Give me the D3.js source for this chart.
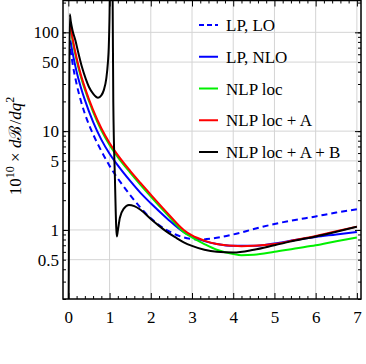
<!DOCTYPE html>
<html>
<head>
<meta charset="utf-8">
<script src="https://cdn.jsdelivr.net/npm/d3@7"></script>
<style>
  body { margin: 0; background: #fff; }
  svg text { font-family: "Liberation Serif", "DejaVu Serif", serif; }
</style>
</head>
<body>
<svg id="chart" width="366" height="364"></svg>
<script>
// q values and dB/dq^2 values (x 10^10)
var qLO = [0.05, 0.1, 0.2, 0.3, 0.4, 0.5, 0.6, 0.8, 1.0, 1.25, 1.5, 1.75, 2.0, 2.2, 2.4, 2.6, 2.8, 3.0, 3.2, 3.5, 4.0, 4.5, 5.0, 5.5, 6.0, 6.5, 7.0];
var lpLO = [68, 49, 30, 20.5, 15, 11.6, 9.3, 6.3, 4.45, 3.1, 2.25, 1.68, 1.31, 1.12, 0.99, 0.9, 0.84, 0.81, 0.8, 0.82, 0.9, 1.02, 1.15, 1.26, 1.37, 1.5, 1.62];

var qNLO = [0.05, 0.1, 0.2, 0.3, 0.4, 0.6, 0.8, 1.0, 1.2, 1.5, 1.75, 2.0, 2.4, 2.8, 3.0, 3.3, 3.6, 4.0, 4.5, 5.0, 5.5, 6.0, 6.5, 7.0];
var lpNLO = [83, 63, 40, 28, 20.7, 12.4, 8.2, 5.9, 4.5, 3.13, 2.37, 1.86, 1.3, 0.95, 0.86, 0.77, 0.72, 0.69, 0.69, 0.73, 0.79, 0.85, 0.9, 0.955];

var qNLP = [0.05, 0.1, 0.2, 0.3, 0.4, 0.6, 0.8, 1.0, 1.2, 1.5, 1.75, 2.0, 2.4, 2.8, 3.0, 3.3, 3.6, 4.0, 4.2, 4.5, 5.0, 5.5, 6.0, 6.5, 7.0];
var nlpLoc = [113, 84, 52, 36, 26.4, 15.7, 10.2, 7.25, 5.45, 3.8, 2.86, 2.18, 1.43, 0.95, 0.84, 0.72, 0.63, 0.57, 0.555, 0.56, 0.6, 0.65, 0.7, 0.77, 0.84];
var nlpLocA = [118, 88, 55, 37.6, 27.6, 16.4, 10.7, 7.6, 5.71, 3.96, 2.99, 2.28, 1.49, 1.0, 0.88, 0.78, 0.72, 0.69, 0.685, 0.69, 0.72, 0.79, 0.87, 0.97, 1.08];

var qB = [0.0, 0.012, 0.022, 0.034, 0.06, 0.1, 0.17, 0.25, 0.33, 0.42, 0.5, 0.6, 0.72, 0.8, 0.86, 0.92, 0.96, 0.98, 1.0, 1.02, 1.04, 1.06, 1.075, 1.09, 1.13, 1.16, 1.175, 1.2, 1.25, 1.35, 1.47, 1.6, 1.75, 2.0, 2.2, 2.4, 2.6, 2.8, 3.0, 3.3, 3.6, 4.0, 4.5, 5.0, 5.5, 6.0, 6.5, 7.0];
var nlpLocAB = [0.05, 0.5, 20, 152, 128, 105, 83, 60, 44.5, 34, 28, 24, 21.8, 23, 26, 34, 50, 70, 160, 800, 2000, 800, 200, 20, 3.3, 1.1, 0.86, 0.98, 1.33, 1.65, 1.79, 1.74, 1.6, 1.29, 1.1, 0.95, 0.84, 0.75, 0.69, 0.63, 0.6, 0.59, 0.63, 0.7, 0.78, 0.86, 0.96, 1.08];

var seriesNames = ["LP, LO", "LP, NLO", "NLP loc", "NLP loc + A", "NLP loc + A + B"];
var xTicks = [0, 1, 2, 3, 4, 5, 6, 7];
var yTicks = [0.5, 1, 5, 10, 50, 100];

var series = [
  { name: seriesNames[0], q: qLO, v: lpLO, color: "#0000ff", dash: "6,4" },
  { name: seriesNames[1], q: qNLO, v: lpNLO, color: "#0000ff", dash: null },
  { name: seriesNames[2], q: qNLP, v: nlpLoc, color: "#00f000", dash: null },
  { name: seriesNames[3], q: qNLP, v: nlpLocA, color: "#ff0000", dash: null },
  { name: seriesNames[4], q: qB, v: nlpLocAB, color: "#000000", dash: null }
];

var svg = d3.select("#chart");
var mLeft = 63, mRight = 361, mTop = 0.5, mBottom = 299;

var x = d3.scaleLinear().domain([-0.13, 7.1]).range([mLeft, mRight]);
var y = d3.scaleLog().domain([0.2, 210]).range([mBottom, mTop]);

svg.append("clipPath").attr("id", "clip")
  .append("rect").attr("x", mLeft).attr("y", mTop).attr("width", mRight - mLeft).attr("height", mBottom - mTop);

// grid
var grid = svg.append("g").attr("stroke", "#d4d4d4").attr("stroke-width", 1);
xTicks.forEach(function (t) {
  grid.append("line").attr("x1", x(t)).attr("x2", x(t)).attr("y1", mTop).attr("y2", mBottom);
});
yTicks.forEach(function (t) {
  grid.append("line").attr("x1", mLeft).attr("x2", mRight).attr("y1", y(t)).attr("y2", y(t));
});

// curves
var line = d3.line()
  .x(function (d) { return x(d[0]); })
  .y(function (d) { return y(d[1]); })
  .curve(d3.curveMonotoneX);

var curves = svg.append("g").attr("clip-path", "url(#clip)");
series.forEach(function (s) {
  var pts = s.q.map(function (q, i) { return [q, s.v[i]]; });
  curves.append("path")
    .attr("d", line(pts))
    .attr("fill", "none")
    .attr("stroke", s.color)
    .attr("stroke-width", 2)
    .attr("stroke-dasharray", s.dash);
});

// ticks on all four sides
var xMinor = d3.range(0, 7.05, 0.2).filter(function (t) { return Math.abs(t - Math.round(t)) > 0.01; });
var yMinor = [];
[0.1, 1, 10, 100].forEach(function (dec) {
  for (var k = 1; k < 10; k++) {
    var v = dec * k;
    if (v >= 0.2 && v <= 210) yMinor.push(v);
  }
});
var yMajor = [1, 10, 100];

function tickAxis(axisFn, scale, vals, size) {
  return axisFn(scale).tickValues(vals).tickSizeInner(size).tickSizeOuter(0).tickFormat("");
}

var fmt = function (d) { return d3.format("~g")(d); };

function place(tx, ty) {
  return svg.append("g").attr("transform", "translate(" + tx + "," + ty + ")");
}

place(0, mBottom).call(tickAxis(d3.axisTop, x, xMinor, 3));
place(0, mBottom).call(tickAxis(d3.axisTop, x, xTicks, 6));
place(0, mBottom).call(d3.axisBottom(x).tickValues(xTicks).tickSize(0).tickPadding(12).tickFormat(fmt));

place(0, mTop).call(tickAxis(d3.axisBottom, x, xMinor, 3));
place(0, mTop).call(tickAxis(d3.axisBottom, x, xTicks, 6));

place(mLeft, 0).call(tickAxis(d3.axisRight, y, yMinor, 3));
place(mLeft, 0).call(tickAxis(d3.axisRight, y, yMajor, 6));
place(mLeft, 0).call(d3.axisLeft(y).tickValues(yTicks).tickSize(0).tickPadding(4).tickFormat(fmt));

place(mRight, 0).call(tickAxis(d3.axisLeft, y, yMinor, 3));
place(mRight, 0).call(tickAxis(d3.axisLeft, y, yMajor, 6));

svg.selectAll(".domain").remove();
svg.selectAll(".tick line").attr("stroke", "#000").attr("stroke-width", 1);
svg.selectAll(".tick text")
  .attr("fill", "#000")
  .style("font-size", "17px")
  .style("font-family", "'Liberation Serif', 'DejaVu Serif', serif");

// frame
svg.append("rect")
  .attr("x", mLeft).attr("y", mTop)
  .attr("width", mRight - mLeft).attr("height", mBottom - mTop)
  .attr("fill", "none").attr("stroke", "#000").attr("stroke-width", 1.5);

// y title
var title = svg.append("text")
  .attr("transform", "translate(21,146) rotate(-90)")
  .attr("text-anchor", "middle")
  .style("font-size", "17px")
  .attr("fill", "#000");
title.append("tspan").text("10");
title.append("tspan").attr("dy", -7).style("font-size", "12px").text("10");
title.append("tspan").attr("dy", 7).text(" × ");
title.append("tspan").style("font-style", "italic").text("d");
title.append("tspan").text("ℬ");
title.append("tspan").attr("dx", 1).text("/");
title.append("tspan").style("font-style", "italic").text("dq");
title.append("tspan").attr("dy", -7).style("font-size", "12px").text("2");

// legend
var legend = svg.append("g");
var rowY = d3.scaleLinear().domain([0, 4]).range([25, 152]);
series.forEach(function (s, i) {
  var ly = rowY(i);
  legend.append("line")
    .attr("x1", 199).attr("x2", 218).attr("y1", ly).attr("y2", ly)
    .attr("stroke", s.color).attr("stroke-width", 2)
    .attr("stroke-dasharray", s.dash ? "5,3" : null);
  legend.append("text")
    .attr("x", 226).attr("y", ly + 6)
    .style("font-size", "17px")
    .attr("fill", "#000")
    .text(s.name);
});
</script>
</body>
</html>
